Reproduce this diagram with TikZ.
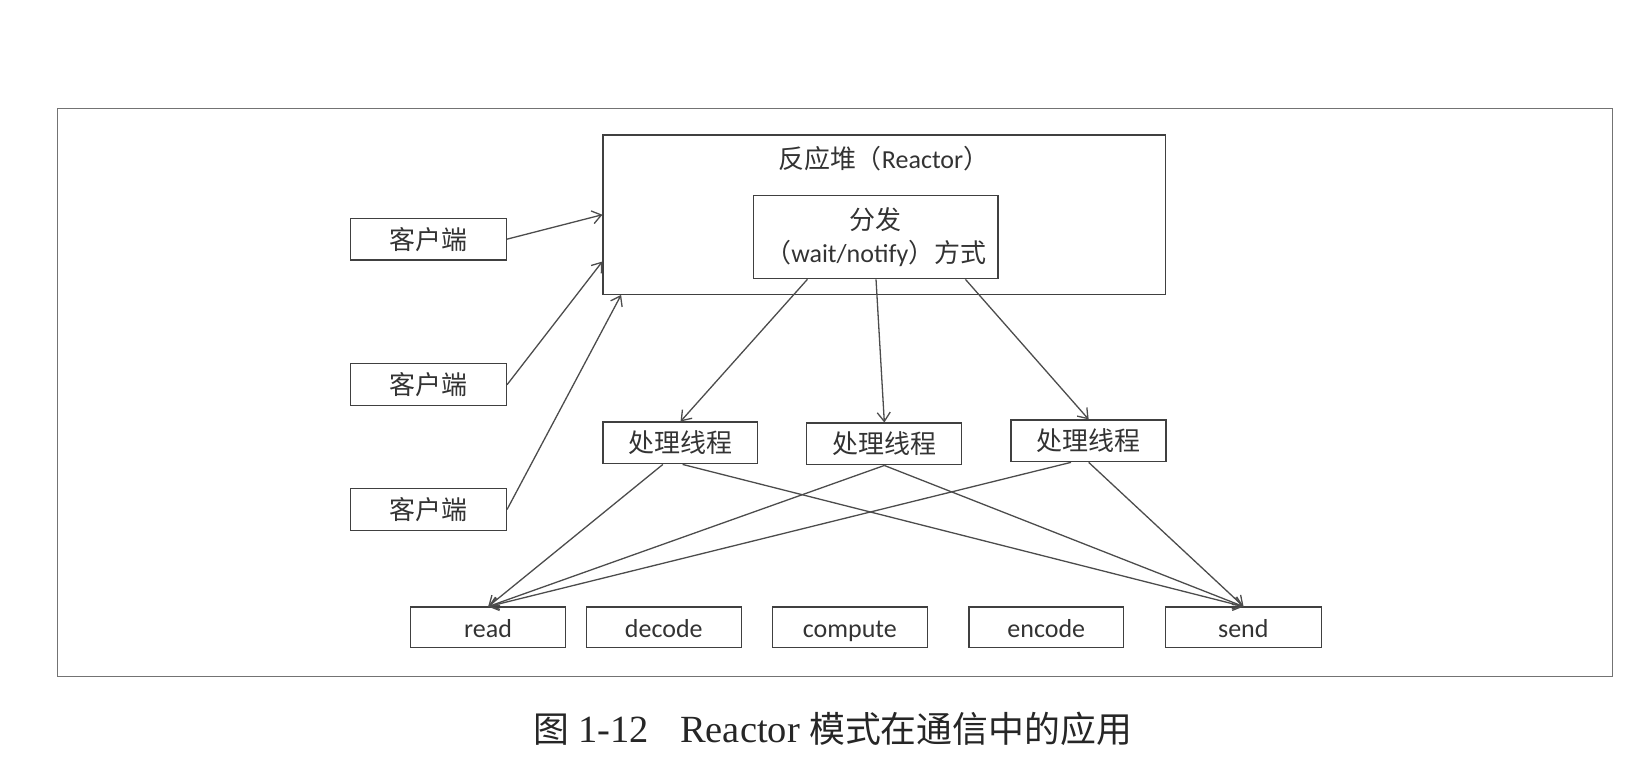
\documentclass[tikz,border=0pt]{standalone}
\usepackage{fontspec}
\setmainfont{Carlito}
\newfontfamily\cjk{Noto Sans CJK SC}
\newfontfamily\capfont{Liberation Serif}
\usetikzlibrary{arrows.meta}

\begin{document}
\begin{tikzpicture}
	[x=1pt,y=-1pt,scale=1.0395,every node/.append style={transform shape},
	box/.style={rectangle,draw=black!75,line width=1.3pt,inner sep=0pt,font=\fontsize{25}{29}\selectfont,text=black!80},
	stage/.style={box,minimum width=149pt,minimum height=39pt,text height=20pt,text depth=1pt},
	link/.style={draw=black!70,line width=1.3pt},
	arr/.style={link,-{Straight Barb[length=9pt,width=13pt,line width=1.3pt]}}]
	\useasboundingbox (0,0) rectangle (1568,748.4);
	\draw[black!55,line width=1.2pt] (55,104) rectangle (1551,651);
	% reactor and dispatcher
	\node[box,minimum width=541pt,minimum height=153pt] (reactor) at (850.5,206.5) {};
	\node[font=\fontsize{25}{29}\selectfont,text=black!80] (title) at (850,153) {{\cjk 反应堆（}Reactor{\cjk ）}};
	\node[box,minimum width=235pt,minimum height=80pt,align=center] (disp) at (842.5,228) {{\cjk 分发}\\[3pt]{\cjk （}wait/notify{\cjk ）方式}};
	% clients
	\node[box,minimum width=150pt,minimum height=40pt] (c1) at (412,230) {\cjk 客户端};
	\node[box,minimum width=150pt,minimum height=40pt] (c2) at (412,370) {\cjk 客户端};
	\node[box,minimum width=150pt,minimum height=40pt] (c3) at (412,490) {\cjk 客户端};
	% threads
	\node[box,minimum width=149pt,minimum height=40pt] (thr1) at (654.5,426) {\cjk 处理线程};
	\node[box,minimum width=149pt,minimum height=40pt] (thr2) at (850.5,427) {\cjk 处理线程};
	\node[box,minimum width=149pt,minimum height=40pt] (thr3) at (1047,424) {\cjk 处理线程};
	% stages
	\node[stage] (read) at (469.5,603.5) {read};
	\node[stage] (decode) at (638.5,603.5) {decode};
	\node[stage] (compute) at (817.5,603.5) {compute};
	\node[stage] (encode) at (1006.5,603.5) {encode};
	\node[stage,minimum width=150pt] (send) at (1196,603.5) {send};
	% caption
	\node[font=\fontsize{34.5}{38}\selectfont,text=black!85] (cap) at (801,701) {{\cjk 图}\hspace{9pt}{\capfont\fontsize{37}{40}\selectfont 1-12\hspace{30pt}Reactor}\hspace{9pt}{\cjk 模式在通信中的应用}};
	% clients to reactor
	\draw[arr] (c1.east) -- (reactor.west);
	\draw[arr] (c2.east) -- ([yshift=-45pt]reactor.west);
	\draw[arr] (c3.east) -- ([xshift=18pt]reactor.south west);
	% dispatcher to threads
	\draw[arr] ([xshift=-66pt]disp.south) -- (thr1.north);
	\draw[arr] (disp.south) -- (thr2.north);
	\draw[arr] ([xshift=86pt]disp.south) -- (thr3.north);
	% threads to read and send
	\draw[arr] ([xshift=-17pt]thr1.south) -- (read.north);
	\draw[arr] ([xshift=2pt]thr1.south) -- (send.north);
	\draw[arr] (thr2.south) -- (read.north);
	\draw[arr] (thr2.south) -- (send.north);
	\draw[arr] ([xshift=-17pt]thr3.south) -- (read.north);
	\draw[arr] (thr3.south) -- (send.north);
\end{tikzpicture}
\end{document}
